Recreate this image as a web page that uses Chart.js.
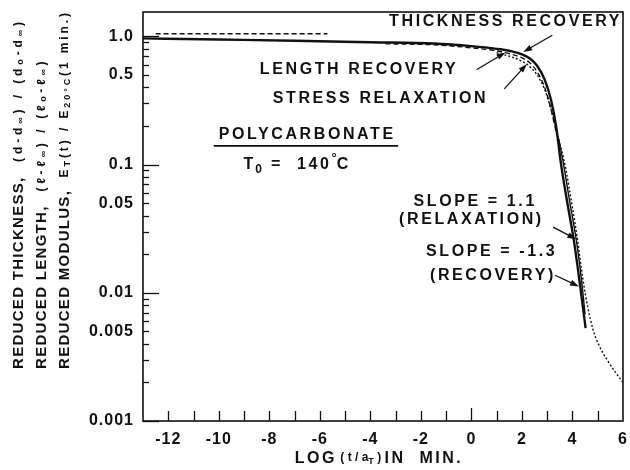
<!DOCTYPE html>
<html>
<head>
<meta charset="utf-8">
<script src="https://cdn.jsdelivr.net/npm/chart.js@4.4.1/dist/chart.umd.min.js"></script>
<style>
  html, body { margin: 0; padding: 0; background: #fff; }
  canvas { display: block; }
</style>
</head>
<body>
<canvas id="chart" width="630" height="470"></canvas>
<script>
// ---- axis ticks -------------------------------------------------------
const xTickValues = [-13, -12, -11, -10, -9, -8, -7, -6, -5, -4, -3, -2, -1, 0, 1, 2, 3, 4, 5, 6];
const xLabelValues = [-12, -10, -8, -6, -4, -2, 0, 2, 4, 6];
const yTickValues = [
  0.001, 0.002, 0.003, 0.004, 0.005, 0.006, 0.007, 0.008, 0.009,
  0.01, 0.02, 0.03, 0.04, 0.05, 0.06, 0.07, 0.08, 0.09,
  0.1, 0.2, 0.3, 0.4, 0.5, 0.6, 0.7, 0.8, 0.9, 1
];
const yLabelValues = [1, 0.5, 0.1, 0.05, 0.01, 0.005, 0.001];
const yLabelText = ['1.0', '0.5', '0.1', '0.05', '0.01', '0.005', '0.001'];

// ---- curves: x = log(t/aT) in min, y = reduced quantity ----------------
const thicknessX = [-13, -10, -7, -4, -1.5, 0, 1.0, 1.6, 2.0, 2.3, 2.6, 2.9, 3.15, 3.35, 3.55, 3.8, 4.05, 4.3, 4.52];
const thicknessY = [0.965, 0.945, 0.925, 0.9, 0.88, 0.84, 0.8, 0.765, 0.725, 0.675, 0.59, 0.46, 0.32, 0.2, 0.1, 0.05, 0.026, 0.0115, 0.0053];

// relaxation line of slope 1.1 beside the recovery line
const slopeLineX = [3.45, 3.65, 3.9, 4.15, 4.36, 4.5];
const slopeLineY = [0.16, 0.1, 0.05, 0.026, 0.0125, 0.0068];

// length recovery: short-time plateau, then the knee
const lengthX = [-12.5, -9, -5.7, -5.2, -3.4, -1.5, 0, 1.0, 1.6, 2.0, 2.3, 2.6, 2.9, 3.15, 3.35];
const lengthY = [1.05, 1.05, 1.048, null, 0.875, 0.86, 0.815, 0.77, 0.725, 0.68, 0.625, 0.53, 0.4, 0.27, 0.18];

// stress relaxation modulus E_T(t) / E_20C(1 min)
const relaxX = [1.0, 1.6, 2.0, 2.3, 2.6, 2.9, 3.2, 3.45, 3.7, 3.97, 4.2, 4.42, 4.6, 4.81, 5.05, 5.37, 5.7, 6.0];
const relaxY = [0.745, 0.69, 0.64, 0.585, 0.5, 0.385, 0.25, 0.16, 0.1, 0.05, 0.026, 0.0125, 0.0078, 0.0052, 0.0039, 0.003, 0.0024, 0.002];

const FONT = '"Liberation Sans", Arial, Helvetica, sans-serif';
const INK = '#111';

function pairs(xs, ys) {
  return xs.map((x, i) => ({ x: x, y: ys[i] }));
}

// draws a run of text pieces with their own fonts and baseline offsets
function drawRich(ctx, pieces, x, y) {
  let cx = x;
  pieces.forEach(p => {
    ctx.font = p.font;
    ctx.letterSpacing = (p.ls || 0) + 'px';
    ctx.fillText(p.t, cx, y + (p.dy || 0));
    cx += ctx.measureText(p.t).width;
  });
  ctx.letterSpacing = '0px';
  return cx - x;
}
function richWidth(ctx, pieces) {
  let w = 0;
  pieces.forEach(p => {
    ctx.font = p.font;
    ctx.letterSpacing = (p.ls || 0) + 'px';
    w += ctx.measureText(p.t).width;
  });
  ctx.letterSpacing = '0px';
  return w;
}
// spreads the formula part of a title line so the line spans `len` pixels
function spreadTo(ctx, pieces, len) {
  const flex = pieces.filter(p => p.flex);
  flex.forEach(p => { p.ls = 0; });
  const w0 = richWidth(ctx, pieces);
  const n = flex.reduce((s, p) => s + [...p.t].length, 0);
  const ls = Math.max(0, (len - w0) / n);
  flex.forEach(p => { p.ls = ls; });
  return pieces;
}

const note = 'bold 16px ' + FONT;
const big = 'bold 15px ' + FONT;
const small = 'bold 12px ' + FONT;
const tiny = 'bold 9px ' + FONT;

// wider tracking for the library-drawn tick labels
const trackingPlugin = {
  id: 'tracking',
  beforeDraw(chart) { chart.ctx.letterSpacing = '1px'; },
  afterDraw(chart) { chart.ctx.letterSpacing = '0px'; }
};

// frame and inward tick marks
const framePlugin = {
  id: 'frame',
  afterDraw(chart) {
    const { ctx, chartArea: a, scales: { x, y } } = chart;
    ctx.save();
    ctx.strokeStyle = INK;
    ctx.lineWidth = 1.6;
    ctx.strokeRect(a.left, a.top, a.right - a.left, a.bottom - a.top);
    ctx.lineWidth = 1.3;
    xTickValues.forEach(v => {
      if (v === x.min || v === x.max) return;
      const px = Math.round(x.getPixelForValue(v)) + 0.5;
      const len = v === 0 ? 13 : 10;
      ctx.beginPath();
      ctx.moveTo(px, a.bottom);
      ctx.lineTo(px, a.bottom - len);
      ctx.stroke();
    });
    yTickValues.forEach(v => {
      const py = Math.round(y.getPixelForValue(v)) + 0.5;
      const decade = Math.abs(Math.log10(v) - Math.round(Math.log10(v))) < 1e-9;
      const len = decade ? 16 : 6;
      ctx.beginPath();
      ctx.moveTo(a.left, py);
      ctx.lineTo(a.left + len, py);
      ctx.stroke();
    });
    ctx.restore();
  }
};

// labels, arrows and axis titles
const notes = [
  { t: 'THICKNESS RECOVERY', x: 1.3, y: 1.31 },
  { t: 'LENGTH RECOVERY', x: -4.5, y: 0.55 },
  { t: 'STRESS RELAXATION', x: -3.65, y: 0.33 },
  { t: 'POLYCARBONATE', x: -6.55, y: 0.17 },
  { t: 'SLOPE = 1.1', x: 0.1, y: 0.051 },
  { t: '(RELAXATION)', x: -0.05, y: 0.0375 },
  { t: 'SLOPE = -1.3', x: 0.75, y: 0.0208 },
  { t: '(RECOVERY)', x: 0.8, y: 0.0137 }
];
const arrows = [
  { x0: 3.2, y0: 1.02, x1: 2.05, y1: 0.755 },
  { x0: 0.2, y0: 0.55, x1: 1.35, y1: 0.75 },
  { x0: 1.3, y0: 0.39, x1: 2.2, y1: 0.61 },
  { x0: 3.23, y0: 0.0325, x1: 4.15, y1: 0.0262 },
  { x0: 3.31, y0: 0.0137, x1: 4.26, y1: 0.0112 }
];

const notePlugin = {
  id: 'notes',
  afterDraw(chart) {
    const { ctx, chartArea: a, scales: { x, y } } = chart;
    ctx.save();
    ctx.fillStyle = INK;
    ctx.strokeStyle = INK;
    ctx.textBaseline = 'middle';

    notes.forEach(n => {
      ctx.font = note;
      ctx.letterSpacing = '2.6px';
      const w = ctx.measureText(n.t).width - 2.6;
      ctx.fillText(n.t, x.getPixelForValue(n.x) - w / 2, y.getPixelForValue(n.y));
    });
    ctx.letterSpacing = '0px';

    // underline of the material name
    ctx.lineWidth = 1.8;
    ctx.beginPath();
    ctx.moveTo(x.getPixelForValue(-10.2), y.getPixelForValue(0.14));
    ctx.lineTo(x.getPixelForValue(-2.9), y.getPixelForValue(0.14));
    ctx.stroke();

    // reference temperature
    const tPieces = [
      { t: 'T', font: note, ls: 2 },
      { t: '0', font: 'bold 12px ' + FONT, dy: 5, ls: 2 },
      { t: ' =  140', font: note, ls: 2.6 },
      { t: '°', font: 'bold 13px ' + FONT, dy: -6 },
      { t: 'C', font: note }
    ];
    const tw = richWidth(ctx, tPieces);
    drawRich(ctx, tPieces, x.getPixelForValue(-6.95) - tw / 2, y.getPixelForValue(0.1));

    // arrows
    ctx.lineWidth = 1.3;
    arrows.forEach(r => {
      const ax = x.getPixelForValue(r.x0), ay = y.getPixelForValue(r.y0);
      const bx = x.getPixelForValue(r.x1), by = y.getPixelForValue(r.y1);
      const ang = Math.atan2(by - ay, bx - ax);
      ctx.beginPath();
      ctx.moveTo(ax, ay);
      ctx.lineTo(bx - 6 * Math.cos(ang), by - 6 * Math.sin(ang));
      ctx.stroke();
      ctx.beginPath();
      ctx.moveTo(bx, by);
      ctx.lineTo(bx - 9 * Math.cos(ang) + 3 * Math.sin(ang), by - 9 * Math.sin(ang) - 3 * Math.cos(ang));
      ctx.lineTo(bx - 9 * Math.cos(ang) - 3 * Math.sin(ang), by - 9 * Math.sin(ang) + 3 * Math.cos(ang));
      ctx.closePath();
      ctx.fill();
    });

    // x-axis title
    const xt = [
      { t: 'LOG', font: note, ls: 2.5 },
      { t: ' ( t / a', font: small, dy: -1 },
      { t: 'T', font: tiny, dy: 3 },
      { t: ' ) ', font: small, dy: -1 },
      { t: 'IN  MIN.', font: note, ls: 2.5 }
    ];
    const xw = richWidth(ctx, xt);
    drawRich(ctx, xt, (a.left + a.right) / 2 - xw / 2 - 4, 459);

    // y-axis title, three lines read bottom to top
    const base = 369;
    const yLines = [
      { cx: 19, top: 18, pieces: [
        { t: 'REDUCED THICKNESS,', font: big, ls: 1.3 },
        { t: '  (d-d', font: small, flex: true },
        { t: '∞', font: tiny, dy: 2, flex: true },
        { t: ') / (d', font: small, flex: true },
        { t: 'o', font: tiny, dy: 2, flex: true },
        { t: '-d', font: small, flex: true },
        { t: '∞', font: tiny, dy: 2, flex: true },
        { t: ')', font: small, flex: true }
      ] },
      { cx: 42, top: 58, pieces: [
        { t: 'REDUCED LENGTH,', font: big, ls: 1.3 },
        { t: '  (ℓ-ℓ', font: small, flex: true },
        { t: '∞', font: tiny, dy: 2, flex: true },
        { t: ') / (ℓ', font: small, flex: true },
        { t: 'o', font: tiny, dy: 2, flex: true },
        { t: '-ℓ', font: small, flex: true },
        { t: '∞', font: tiny, dy: 2, flex: true },
        { t: ')', font: small, flex: true }
      ] },
      { cx: 65, top: 10, pieces: [
        { t: 'REDUCED MODULUS,', font: big, ls: 1.3 },
        { t: '  E', font: small, flex: true },
        { t: 'T', font: tiny, dy: 3, flex: true },
        { t: '(t) / E', font: small, flex: true },
        { t: '20°C', font: tiny, dy: 3, flex: true },
        { t: '(1 min.)', font: small, flex: true }
      ] }
    ];
    yLines.forEach(l => {
      spreadTo(ctx, l.pieces, base - l.top);
      ctx.save();
      ctx.translate(l.cx, base);
      ctx.rotate(-Math.PI / 2);
      drawRich(ctx, l.pieces, 0, 0);
      ctx.restore();
    });
    ctx.restore();
  }
};

const lineStyle = { borderColor: INK, pointRadius: 0, fill: false, cubicInterpolationMode: 'monotone' };

new Chart(document.getElementById('chart'), {
  type: 'line',
  data: {
    datasets: [
      Object.assign({ label: 'Thickness recovery', data: pairs(thicknessX, thicknessY), borderWidth: 2.4 }, lineStyle),
      Object.assign({ label: 'Relaxation slope', data: pairs(slopeLineX, slopeLineY), borderWidth: 1.4 }, lineStyle),
      Object.assign({ label: 'Length recovery', data: pairs(lengthX, lengthY), borderWidth: 1.4, borderDash: [5, 3] }, lineStyle),
      Object.assign({ label: 'Stress relaxation', data: pairs(relaxX, relaxY), borderWidth: 1.4, borderDash: [2, 2] }, lineStyle)
    ]
  },
  options: {
    responsive: false,
    animation: false,
    devicePixelRatio: 1,
    layout: { padding: { top: 12, right: 7, left: 0, bottom: 0 } },
    plugins: { legend: { display: false }, tooltip: { enabled: false } },
    scales: {
      x: {
        type: 'linear',
        min: -13,
        max: 6,
        afterBuildTicks: s => { s.ticks = xTickValues.map(v => ({ value: v })); },
        afterFit: s => { s.height = 49; s.paddingLeft = 0; s.paddingRight = 0; },
        grid: { display: false, drawTicks: false, tickLength: 0 },
        border: { display: false },
        ticks: {
          autoSkip: false,
          maxRotation: 0,
          padding: 9,
          color: INK,
          font: { family: FONT, size: 16, weight: 'bold' },
          callback: v => (xLabelValues.includes(v) ? String(v) : '')
        }
      },
      y: {
        type: 'logarithmic',
        min: 0.001,
        max: 1.55,
        afterBuildTicks: s => { s.ticks = yTickValues.map(v => ({ value: v })); },
        afterFit: s => { s.width = 143; s.paddingTop = 0; s.paddingBottom = 0; },
        grid: { display: false, drawTicks: false, tickLength: 0 },
        border: { display: false },
        ticks: {
          autoSkip: false,
          padding: 9,
          color: INK,
          font: { family: FONT, size: 16, weight: 'bold' },
          callback: v => {
            const i = yLabelValues.findIndex(u => Math.abs(u - v) / u < 1e-6);
            return i >= 0 ? yLabelText[i] : '';
          }
        }
      }
    }
  },
  plugins: [trackingPlugin, framePlugin, notePlugin]
});
</script>
</body>
</html>
